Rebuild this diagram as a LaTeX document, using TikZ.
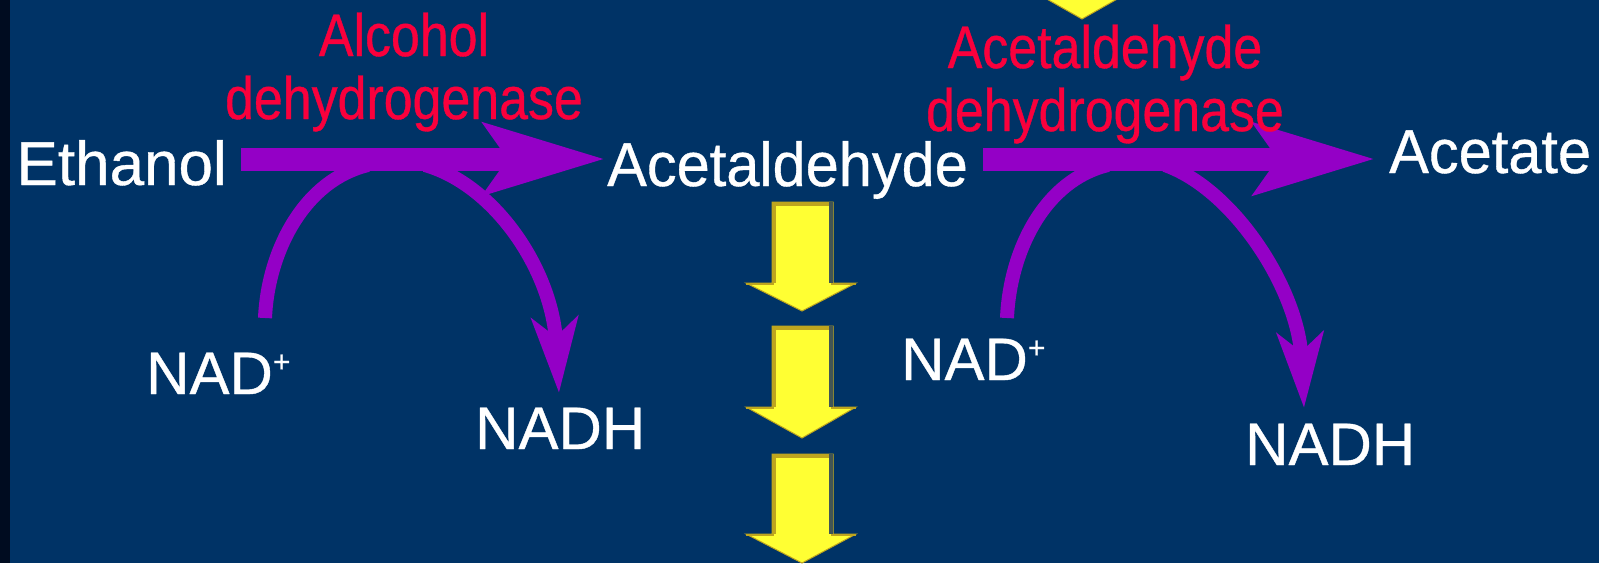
\documentclass[tikz,border=0pt]{standalone}
\usepackage{fontspec}
\setmainfont[FakeBold=0.6]{Liberation Sans}
\newfontfamily\nfa[FakeStretch=0.96,FakeBold=0.6]{Liberation Sans}
\newfontfamily\nfb[FakeStretch=0.865,FakeBold=0.6]{Liberation Sans}
\usetikzlibrary{arrows.meta,calc}
\definecolor{bg}{RGB}{0,51,102}
\definecolor{edge}{RGB}{0,12,32}
\definecolor{pur}{RGB}{148,0,198}
\definecolor{enz}{RGB}{250,0,60}
\definecolor{yel}{RGB}{255,255,51}
\definecolor{yeledge}{RGB}{190,165,30}
\definecolor{yelshade}{RGB}{65,85,85}
\newcommand{\supplus}{\raisebox{22pt}{\fontsize{30}{30}\selectfont +}}
\tikzset{
 x=1pt,y=-1pt,
 chem/.style={text=white,font=\fontsize{62}{62}\selectfont,inner sep=0pt},
 chemn/.style={text=white,font=\nfa\fontsize{62}{62}\selectfont,inner sep=0pt},
 small/.style={text=white,font=\fontsize{60}{60}\selectfont,inner sep=0pt},
 enzyme/.style={text=enz,font=\nfb\fontsize{60}{63}\selectfont,inner sep=0pt},
 mainarrow/.style={draw=pur,line width=23pt,-{Stealth[length=120pt,width=70pt,inset=23pt,fill=pur]}},
 curvearrow/.style={draw=pur,line width=14pt},
 curvetip/.style={draw=pur,line width=14pt,-{Stealth[length=75pt,width=46pt,inset=19pt,fill=pur]}},
 yarrow/.style={fill=yel,draw=yeledge,line width=1pt,line join=miter},
 yleft/.style={draw=yeledge,line width=4pt},
 yright/.style={draw=yelshade,line width=4pt},
 ybarb/.style={draw=yeledge,line width=2pt},
}
\begin{document}
\begin{tikzpicture}
\useasboundingbox (0,0) rectangle (1599,563);
\fill[bg] (0,0) rectangle (1599,563);
\fill[edge] (0,0) rectangle (10,563);
% yellow arrows
\foreach \t/\h/\e in {202/283/311,326/407/438,454/534/563}{
 \draw[yarrow] (772,\t) -- (833,\t) -- (833,\h) -- (856,\h) -- (802,\e) -- (746,\h) -- (772,\h) -- cycle;
 \draw[yleft] (774,\h) -- (774,\t+2) -- (831,\t+2);
 \draw[yright] (831,\t) -- (831,\h);
 \draw[ybarb] (746,\h+1) -- (774,\h+1);
 \draw[ybarb] (831,\h+1) -- (856,\h+1);
}
\draw[yarrow] (1045,-2) -- (1082,19) -- (1119,-2);
% labels
\node[chem,text height=52pt,text depth=0pt,anchor=east] (ethanol) at (227,159) {Ethanol};
\node[chemn,text height=54pt,text depth=0pt,anchor=west] (acetald) at (607,159) {Acetaldehyde};
\node[chemn,text height=28pt,text depth=0pt,anchor=west] (acetate) at (1389,159) {Acetate};
\node[small,anchor=base west] (nad1) at (146,394) {NAD\supplus};
\node[small,anchor=base west] (nadh1) at (475,449) {NADH};
\node[small,anchor=base west] (nad2) at (901,380) {NAD\supplus};
\node[small,anchor=base west] (nadh2) at (1245,465) {NADH};
% connector ends
\coordinate (s1) at (265,318);
\coordinate (j1) at (368,165);
\coordinate (j2) at (425,165);
\coordinate (t1) at (559,393);
\coordinate (s2) at (1007,318);
\coordinate (j3) at (1108,165);
\coordinate (j4) at (1165,165);
\coordinate (t2) at (1304,408);
% curves
\draw[curvearrow] (s1) .. controls (268,250) and (305,180) .. (j1);
\draw[curvetip] (j2) .. controls (495,185) and (552,270) .. (t1);
\draw[curvearrow] (s2) .. controls (1010,250) and (1045,180) .. (j3);
\draw[curvetip] (j4) .. controls (1235,190) and (1298,290) .. (t2);
% main arrows
\draw[mainarrow,shorten <=14pt,shorten >=2pt] (ethanol.east) -- (acetald.west);
\draw[mainarrow,shorten <=15pt,shorten >=14pt] (acetald.east) -- (acetate.west);
% enzymes, over the arrows
\node[enzyme,align=center] (adh) at (404,72) {Alcohol\\dehydrogenase};
\node[enzyme,align=center] (aldh) at (1105,84) {Acetaldehyde\\dehydrogenase};
\end{tikzpicture}
\end{document}
